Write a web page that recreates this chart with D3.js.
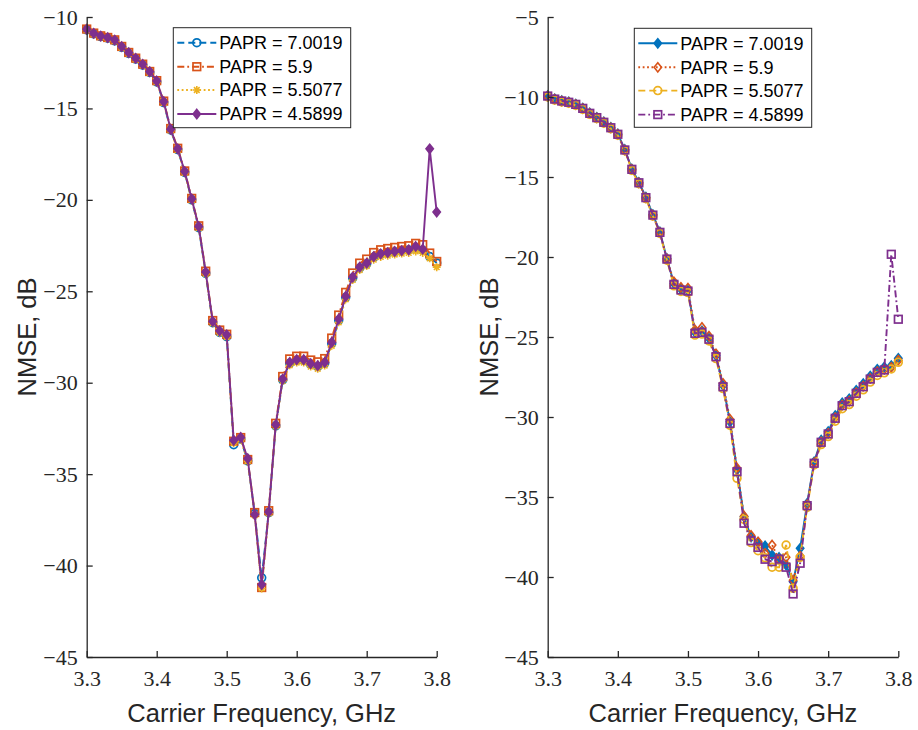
<!DOCTYPE html>
<html>
<head>
<meta charset="utf-8">
<script src="https://cdn.jsdelivr.net/npm/d3@7"></script>
<style>
  html, body { margin: 0; padding: 0; background: #fff; }
  svg { display: block; }
</style>
</head>
<body>
<div id="chart"></div>
<script>
// carrier frequencies, GHz
const freqs = [3.30, 3.31, 3.32, 3.33, 3.34, 3.35, 3.36, 3.37, 3.38, 3.39,
  3.40, 3.41, 3.42, 3.43, 3.44, 3.45, 3.46, 3.47, 3.48, 3.49,
  3.50, 3.51, 3.52, 3.53, 3.54, 3.55, 3.56, 3.57, 3.58, 3.59,
  3.60, 3.61, 3.62, 3.63, 3.64, 3.65, 3.66, 3.67, 3.68, 3.69,
  3.70, 3.71, 3.72, 3.73, 3.74, 3.75, 3.76, 3.77, 3.78, 3.79, 3.80];

const paprLabels = ['PAPR = 7.0019', 'PAPR = 5.9', 'PAPR = 5.5077', 'PAPR = 4.5899'];

// left panel NMSE, dB
const leftP70 = [-10.70, -10.92, -11.07, -11.16, -11.30, -11.66, -11.99, -12.30, -12.63, -13.03,
  -13.55, -14.68, -16.18, -17.25, -18.50, -20.00, -21.52, -24.02, -26.72, -27.25,
  -27.48, -33.39, -33.08, -34.28, -37.15, -40.67, -37.10, -32.36, -29.84, -28.93,
  -28.78, -28.78, -29.00, -29.12, -28.93, -27.85, -26.58, -25.33, -24.27, -23.72,
  -23.50, -23.14, -22.98, -22.90, -22.84, -22.78, -22.74, -22.65, -22.75, -23.10, -23.45];
const leftP59 = [-10.66, -10.88, -11.03, -11.12, -11.25, -11.61, -11.94, -12.25, -12.58, -12.98,
  -13.48, -14.60, -16.10, -17.18, -18.42, -19.92, -21.42, -23.90, -26.60, -27.12,
  -27.35, -33.20, -33.00, -34.20, -37.10, -41.20, -37.00, -32.22, -29.66, -28.70,
  -28.55, -28.55, -28.76, -28.86, -28.68, -27.56, -26.30, -25.06, -24.00, -23.46,
  -23.24, -22.88, -22.73, -22.66, -22.60, -22.55, -22.51, -22.38, -22.45, -22.91, -23.37];
const leftP55 = [-10.72, -10.94, -11.09, -11.18, -11.31, -11.67, -12.00, -12.31, -12.64, -13.05,
  -13.56, -14.70, -16.20, -17.28, -18.52, -20.02, -21.55, -24.05, -26.75, -27.28,
  -27.50, -33.30, -33.10, -34.30, -37.25, -41.25, -37.15, -32.38, -29.90, -29.05,
  -28.90, -28.90, -29.12, -29.24, -29.06, -27.98, -26.70, -25.44, -24.38, -23.84,
  -23.62, -23.27, -23.12, -23.05, -22.99, -22.94, -22.90, -22.82, -22.90, -23.20, -23.68];
const leftP45 = [-10.67, -10.89, -11.04, -11.13, -11.26, -11.62, -11.95, -12.26, -12.59, -12.99,
  -13.50, -14.63, -16.14, -17.21, -18.45, -19.95, -21.46, -23.95, -26.65, -27.16,
  -27.38, -33.15, -32.99, -34.15, -37.21, -41.04, -37.07, -32.30, -29.80, -28.89,
  -28.74, -28.74, -28.96, -29.07, -28.89, -27.80, -26.52, -25.28, -24.22, -23.68,
  -23.46, -23.10, -22.95, -22.88, -22.82, -22.77, -22.73, -22.55, -22.70, -17.21, -20.67];

// right panel NMSE, dB
const rightP70 = [-9.92, -10.11, -10.23, -10.31, -10.44, -10.69, -11.00, -11.27, -11.56, -11.90,
  -12.31, -13.28, -14.50, -15.33, -16.26, -17.35, -18.43, -20.10, -21.66, -22.00,
  -22.08, -24.70, -24.62, -25.08, -26.16, -28.02, -30.30, -33.30, -36.23, -37.50,
  -37.86, -38.06, -38.63, -38.78, -39.25, -40.29, -38.21, -35.40, -32.80, -31.45,
  -30.92, -29.92, -29.12, -28.86, -28.33, -27.92, -27.44, -27.02, -26.88, -26.79, -26.33];
const rightP59 = [-9.95, -10.14, -10.26, -10.34, -10.47, -10.72, -11.03, -11.30, -11.59, -11.93,
  -12.34, -13.32, -14.53, -15.37, -16.30, -17.39, -18.47, -20.12, -21.55, -21.90,
  -21.95, -24.55, -24.40, -24.95, -26.05, -27.90, -30.15, -33.20, -36.20, -37.40,
  -37.80, -38.52, -38.00, -38.90, -38.77, -40.20, -38.69, -35.48, -32.86, -31.55,
  -31.02, -30.04, -29.25, -29.00, -28.48, -28.07, -27.59, -27.17, -27.02, -26.90, -26.45];
const rightP55 = [-10.00, -10.19, -10.31, -10.39, -10.52, -10.77, -11.08, -11.35, -11.64, -11.98,
  -12.39, -13.36, -14.58, -15.42, -16.35, -17.44, -18.52, -20.20, -21.80, -22.15,
  -22.22, -24.88, -24.82, -25.25, -26.35, -28.22, -30.52, -33.83, -36.40, -37.85,
  -38.36, -38.80, -39.39, -39.39, -38.00, -40.71, -38.77, -35.65, -33.00, -31.72,
  -31.22, -30.26, -29.48, -29.22, -28.70, -28.30, -27.82, -27.40, -27.24, -27.00, -26.58];
const rightP45 = [-9.94, -10.13, -10.25, -10.33, -10.46, -10.71, -11.02, -11.29, -11.58, -11.92,
  -12.33, -13.31, -14.52, -15.36, -16.29, -17.38, -18.46, -20.13, -21.71, -22.06,
  -22.13, -24.77, -24.71, -25.14, -26.23, -28.11, -30.40, -33.42, -36.64, -37.73,
  -38.15, -38.89, -39.04, -38.88, -39.39, -41.06, -39.14, -35.54, -32.89, -31.58,
  -31.06, -30.08, -29.29, -29.04, -28.52, -28.11, -27.63, -27.21, -27.06, -19.83, -23.89];

const xTicks = [3.3, 3.4, 3.5, 3.6, 3.7, 3.8];
const leftYTicks = [-45, -40, -35, -30, -25, -20, -15, -10];
const rightYTicks = [-45, -40, -35, -30, -25, -20, -15, -10, -5];

const C = { blue: '#0072BD', orange: '#D95319', yellow: '#EDB120', purple: '#7E2F8E' };
const DASH = { solid: null, dashed: '7,4', dotted: '1.8,2.6', dashdot: '7,3,1.8,3' };
const SANS = 'Liberation Sans';
const SERIF = 'Liberation Serif';

const panels = [
  {
    xRange: [86.7, 436.7], yDomain: [-45, -10], yTicks: leftYTicks,
    yLabelX: 27, legend: { x: 173.3, y: 27.7, w: 177.4, h: 100 },
    series: [
      { values: leftP70, color: C.blue, dash: 'dashed', marker: 'o' },
      { values: leftP59, color: C.orange, dash: 'dashdot', marker: 's' },
      { values: leftP55, color: C.yellow, dash: 'dotted', marker: '*' },
      { values: leftP45, color: C.purple, dash: 'solid', marker: 'D' }
    ]
  },
  {
    xRange: [547.7, 898.3], yDomain: [-45, -5], yTicks: rightYTicks,
    yLabelX: 489, legend: { x: 634.3, y: 28.3, w: 177.4, h: 99 },
    series: [
      { values: rightP70, color: C.blue, dash: 'solid', marker: 'D' },
      { values: rightP59, color: C.orange, dash: 'dotted', marker: 'd' },
      { values: rightP55, color: C.yellow, dash: 'dashed', marker: 'o' },
      { values: rightP45, color: C.purple, dash: 'dashdot', marker: 's' }
    ]
  }
];

const W = 918, H = 730;
const yRange = [657, 17];

const svg = d3.select('#chart').append('svg').attr('width', W).attr('height', H);

function marker(g, type, x, y, color) {
  if (type === 'o') {
    g.append('circle').attr('cx', x).attr('cy', y).attr('r', 3.9)
      .attr('fill', 'none').attr('stroke', color).attr('stroke-width', 1.7);
  } else if (type === 's') {
    g.append('rect').attr('x', x - 3.8).attr('y', y - 3.8).attr('width', 7.6).attr('height', 7.6)
      .attr('fill', 'none').attr('stroke', color).attr('stroke-width', 1.7);
  } else if (type === '*') {
    const r = 4, q = r * 0.707;
    const p = `M${x - r},${y}H${x + r}M${x},${y - r}V${y + r}M${x - q},${y - q}L${x + q},${y + q}M${x - q},${y + q}L${x + q},${y - q}`;
    g.append('path').attr('d', p).attr('fill', 'none').attr('stroke', color).attr('stroke-width', 1.6);
  } else if (type === 'D' || type === 'd') {
    const r = 4.6;
    g.append('path').attr('d', `M${x},${y - r}L${x + r * 0.8},${y}L${x},${y + r}L${x - r * 0.8},${y}Z`)
      .attr('fill', type === 'D' ? color : 'none').attr('stroke', color).attr('stroke-width', 1.6);
  }
}

panels.forEach(p => {
  const x = d3.scaleLinear().domain([3.3, 3.8]).range(p.xRange);
  const y = d3.scaleLinear().domain(p.yDomain).range(yRange);
  const g = svg.append('g');

  // series
  const line = d3.line().x((d, i) => x(freqs[i])).y(d => y(d));
  p.series.forEach(s => {
    const sg = g.append('g');
    sg.append('path').datum(s.values).attr('d', line)
      .attr('fill', 'none').attr('stroke', s.color).attr('stroke-width', 1.9)
      .attr('stroke-dasharray', DASH[s.dash]);
    s.values.forEach((v, i) => marker(sg, s.marker, x(freqs[i]), y(v), s.color));
  });

  // axes (MATLAB style, ticks pointing inward)
  const xAxis = d3.axisBottom(x).tickValues(xTicks).tickFormat(d3.format('.1f'))
    .tickSizeInner(-6).tickSizeOuter(0).tickPadding(11);
  const yAxis = d3.axisLeft(y).tickValues(p.yTicks).tickFormat(d => '\u2212' + Math.abs(d))
    .tickSizeInner(-6).tickSizeOuter(0).tickPadding(9);

  const gx = g.append('g').attr('transform', `translate(0,${yRange[0]})`).call(xAxis);
  const gy = g.append('g').attr('transform', `translate(${p.xRange[0]},0)`).call(yAxis);
  [gx, gy].forEach(a => {
    a.attr('font-family', SERIF).attr('font-size', 22);
    a.select('.domain').attr('stroke', '#262626').attr('stroke-width', 1.3);
    a.selectAll('.tick line').attr('stroke', '#262626').attr('stroke-width', 1.3);
    a.selectAll('.tick text').attr('font-family', SERIF).attr('font-size', 22).attr('fill', '#262626');
  });
  gx.selectAll('.tick text').attr('dy', '0.8em');

  // axis labels
  g.append('text').attr('font-family', SANS).attr('font-size', 25.5).attr('fill', '#262626')
    .attr('x', (p.xRange[0] + p.xRange[1]) / 2).attr('y', 722)
    .attr('text-anchor', 'middle').text('Carrier Frequency, GHz');
  g.append('text').attr('font-family', SANS).attr('font-size', 25.5).attr('fill', '#262626')
    .attr('transform', `translate(${p.yLabelX},${(yRange[0] + yRange[1]) / 2}) rotate(-90)`)
    .attr('text-anchor', 'middle').attr('dy', '0.35em').text('NMSE, dB');

  // legend
  const L = p.legend;
  const lg = g.append('g');
  lg.append('rect').attr('x', L.x).attr('y', L.y).attr('width', L.w).attr('height', L.h)
    .attr('fill', '#fff').attr('stroke', '#262626').attr('stroke-width', 1);
  const rowY = [15, 39, 62.3, 86.3];
  p.series.forEach((s, i) => {
    const cy = L.y + rowY[i];
    const x0 = L.x + 4, x1 = L.x + 43;
    lg.append('line').attr('x1', x0).attr('x2', x1).attr('y1', cy).attr('y2', cy)
      .attr('stroke', s.color).attr('stroke-width', 1.9).attr('stroke-dasharray', DASH[s.dash]);
    marker(lg, s.marker, (x0 + x1) / 2, cy, s.color);
    lg.append('text').attr('font-family', SANS).attr('font-size', 18).attr('fill', '#000')
      .attr('x', L.x + 46).attr('y', cy).attr('dy', '0.35em').text(paprLabels[i]);
  });
});
</script>
</body>
</html>
